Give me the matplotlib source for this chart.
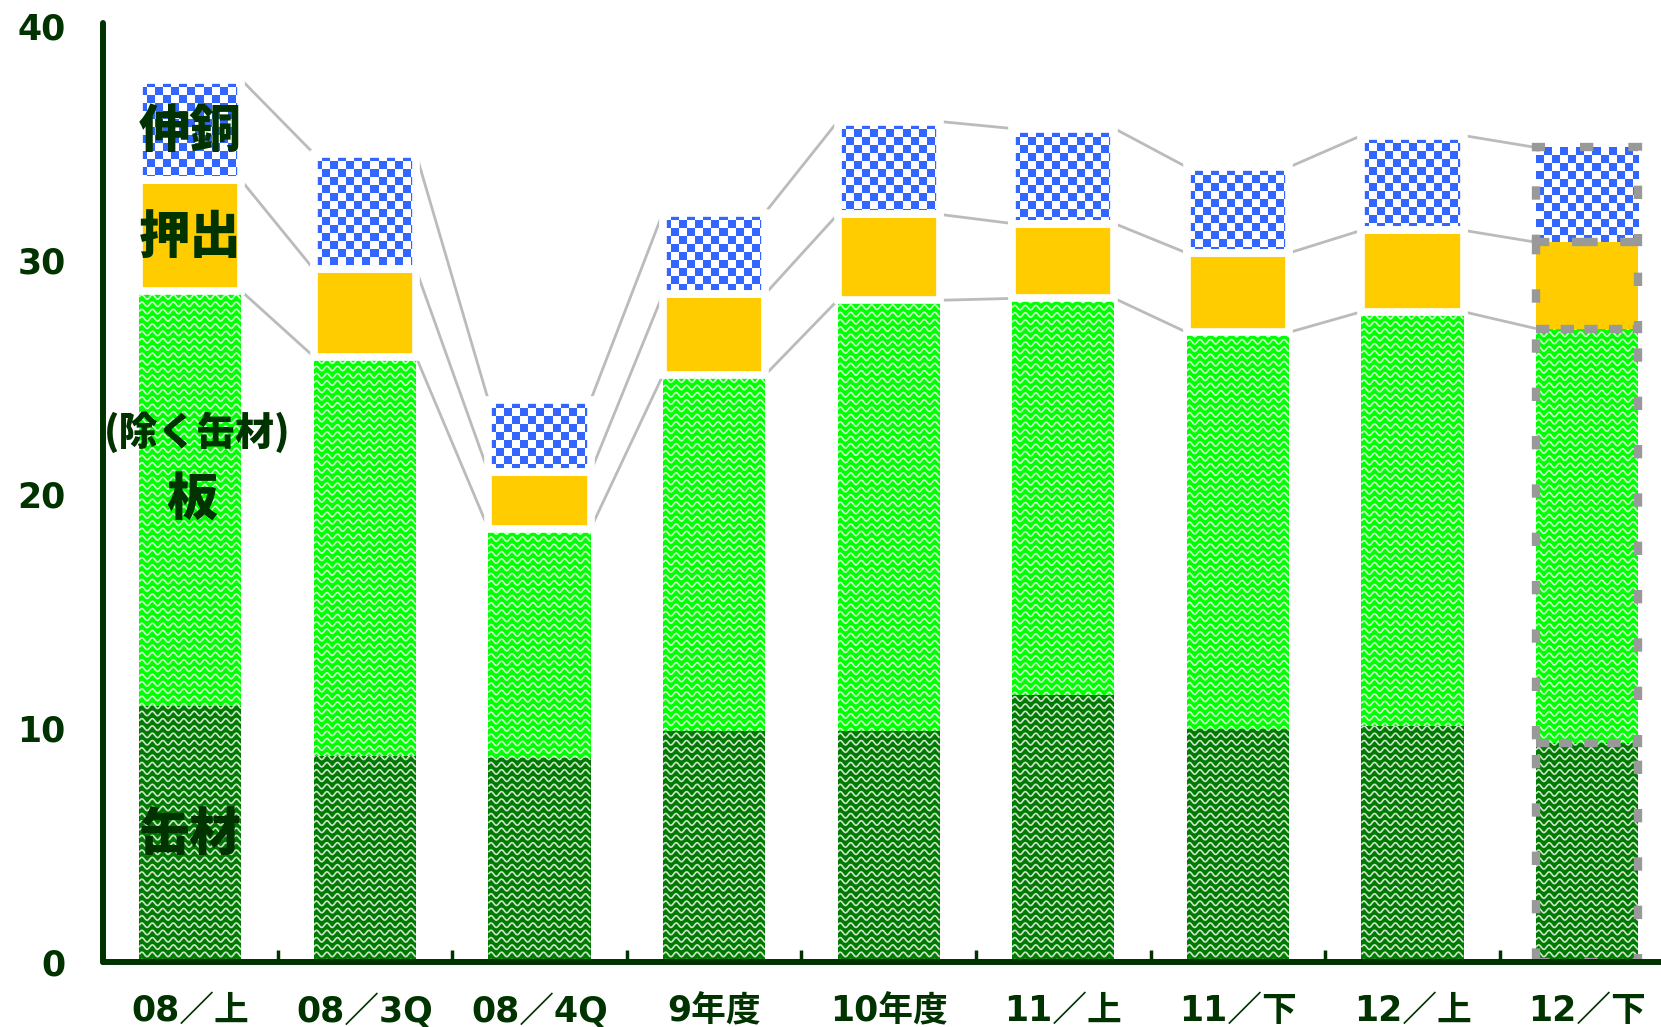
import numpy as np
import matplotlib
matplotlib.use("Agg")
import matplotlib.pyplot as plt
from matplotlib.collections import LineCollection

plt.rcParams["font.family"] = ["Noto Sans CJK JP", "DejaVu Sans"]

# data (stacked, bottom to top)
categories = ["08／上", "08／3Q", "08／4Q", "9年度", "10年度", "11／上", "11／下", "12／上", "12／下"]
can = [10.94, 8.82, 8.70, 9.88, 9.88, 11.42, 9.96, 10.10, 9.35]       # 缶材
sheet = [17.73, 17.05, 9.82, 15.21, 18.40, 16.94, 16.95, 17.69, 17.72]  # 板(除く缶材)
extrude = [4.73, 3.73, 2.42, 3.46, 3.67, 3.20, 3.39, 3.48, 3.69]        # 押出
drawn = [4.30, 4.95, 3.06, 3.48, 3.97, 4.06, 3.67, 4.05, 4.05]          # 伸銅
yticks = [0, 10, 20, 30, 40]

DARK = "#003300"
colors = ["#007A00", "#00FF00", "#FFCC00", "#FFFFFF"]
BLUE = np.array([0x33, 0x66, 0xFF]) / 255.0

fig = plt.figure(figsize=(16.61, 10.27), dpi=100)
ax = fig.add_axes([103 / 1661, 65 / 1027, 1 - 103 / 1661, (962 - 23) / 1027])

x = np.arange(len(categories))
width = 0.585
px_x = 174.6   # pixels per x unit
px_y = 23.4    # pixels per y unit


def add_waves(patch):
    """White wavy lines over a green segment."""
    x0, y0 = patch.get_x(), patch.get_y()
    w, h = patch.get_width(), patch.get_height()
    xs = np.linspace(x0, x0 + w, 260)
    period = 10.5 / px_x
    segs = []
    for yb in np.arange(y0 - 0.3, y0 + h + 0.3, 7.3 / px_y):
        ys = yb + (2.2 / px_y) * np.sin(2 * np.pi * (xs - x0) / period)
        segs.append(np.column_stack([xs, ys]))
    lc = LineCollection(segs, colors="white", linewidths=1.2, alpha=0.8, zorder=1.2)
    ax.add_collection(lc)
    lc.set_clip_path(patch)


def add_checker(patch):
    """Blue/white checkerboard inside a segment."""
    x0, y0 = patch.get_x(), patch.get_y()
    w, h = patch.get_width(), patch.get_height()
    cx, cy = 8.0 / px_x, 8.0 / px_y
    nx, ny = int(np.ceil(w / cx)), int(np.ceil(h / cy))
    grid = (np.add.outer(np.arange(ny), np.arange(nx)) % 2).astype(bool)
    img = np.ones((ny, nx, 3))
    img[grid] = BLUE
    im = ax.imshow(img, extent=(x0, x0 + nx * cx, y0 + h - ny * cy, y0 + h),
                   origin="upper", interpolation="nearest", aspect="auto", zorder=1.2)
    im.set_clip_path(patch)


series = [can, sheet, extrude, drawn]
bottoms = np.zeros(len(x))
layer_bottoms = []
for li, (vals, color) in enumerate(zip(series, colors)):
    bars = ax.bar(x, vals, width, bottom=bottoms, color=color, linewidth=0, zorder=1)
    layer_bottoms.append(bottoms.copy())
    for p in bars.patches:
        if li in (0, 1):
            add_waves(p)
        elif li == 3:
            add_checker(p)
    bottoms = bottoms + np.array(vals)

# white borders on 押出 / 伸銅 (all but the last bar)
for li in (2, 3):
    ax.bar(x[:-1], series[li][:-1], width, bottom=layer_bottoms[li][:-1], fill=False,
           edgecolor="white", linewidth=5.5, zorder=1.6)

# dashed gray outline on the last bar
for li in range(4):
    ax.bar(x[-1], series[li][-1], width, bottom=layer_bottoms[li][-1], fill=False,
           edgecolor="#999999", linewidth=6, linestyle=(0, (1.6, 4.2)), zorder=1.7)

# series lines between bars (tops of 板, 押出, 伸銅)
for li in (1, 2, 3):
    tops = layer_bottoms[li] + np.array(series[li])
    for i in range(len(x) - 1):
        ax.plot([x[i] + width / 2, x[i + 1] - width / 2], [tops[i], tops[i + 1]],
                color="#BBBBBB", linewidth=2.0, zorder=1.4, solid_capstyle="butt")

# series names on the first bar
labels = [("伸銅", 0.0, 35.47, 37), ("押出", 0.0, 30.94, 37),
          ("(除く缶材)", 0.04, 22.65, 28), ("板", 0.01, 19.74, 37),
          ("缶材", 0.0, 5.43, 37)]
for txt, lx, ly, fs in labels:
    ax.text(lx, ly, txt, ha="center", va="center", fontsize=fs, fontweight="black",
            color=DARK, zorder=5)

for s in ("top", "right"):
    ax.spines[s].set_visible(False)
for s in ("left", "bottom"):
    ax.spines[s].set_color(DARK)
    ax.spines[s].set_linewidth(4.3)
    ax.spines[s].set_capstyle("round")

ax.set_xticks(x[:-1] + 0.5)
ax.set_xticks(x, categories, minor=True)
ax.tick_params(axis="x", which="major", direction="in", length=8.5, width=2.5,
               color=DARK, labelbottom=False)
ax.tick_params(axis="x", which="minor", length=0, pad=23, labelsize=25, labelcolor=DARK)
for lbl in ax.get_xticklabels(minor=True):
    lbl.set_fontfamily(["DejaVu Sans", "Noto Sans CJK JP"])
    lbl.set_fontweight("bold")

ax.set_yticks(yticks)
ax.tick_params(axis="y", length=0, pad=27, labelsize=25, labelcolor=DARK)
for lbl in ax.get_yticklabels():
    lbl.set_fontfamily(["DejaVu Sans"])
    lbl.set_fontweight("bold")

ax.set_xlim(-0.5, -0.5 + (1661 - 103) / 174.6)
ax.set_ylim(0, 40.13)

fig.savefig("out.png", dpi=100)
